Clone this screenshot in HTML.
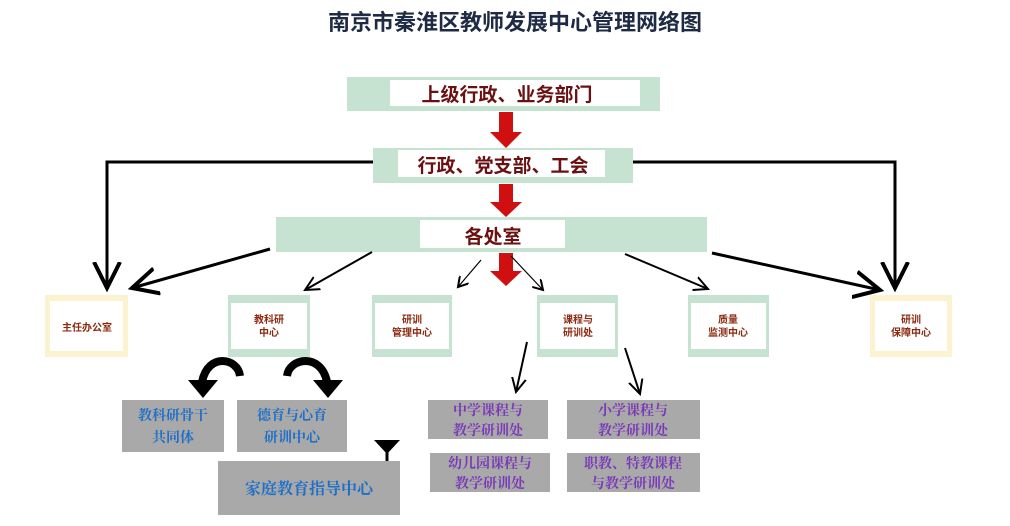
<!DOCTYPE html>
<html><head><meta charset="utf-8"><style>
html,body{margin:0;padding:0;background:#fff;}
svg{display:block;font-family:"Liberation Sans","Noto Sans CJK SC",sans-serif;}
</style></head><body>
<svg width="1010" height="526" viewBox="0 0 1010 526" xmlns="http://www.w3.org/2000/svg">
<defs>
<marker id="oa" markerWidth="12" markerHeight="12" refX="10" refY="6" orient="auto" markerUnits="userSpaceOnUse"><path d="M0,0 L10,6 L0,12" fill="none" stroke="#000" stroke-width="2"/></marker>
<marker id="ob" markerWidth="30" markerHeight="30" refX="26" refY="15" orient="auto" markerUnits="userSpaceOnUse"><path d="M0,2 L26,15 L0,28" fill="none" stroke="#000" stroke-width="4"/></marker>
<marker id="os" markerWidth="16" markerHeight="16" refX="14" refY="8" orient="auto" markerUnits="userSpaceOnUse"><path d="M0,1 L14,8 L0,15" fill="none" stroke="#000" stroke-width="2"/></marker>
</defs>
<text x="515" y="30" text-anchor="middle" font-size="22" font-weight="bold" fill="#1f2a44">南京市秦淮区教师发展中心管理网络图</text>

<rect x="347" y="77" width="313" height="34" fill="#c6e3d1"/>
<rect x="390" y="80" width="250" height="26" fill="#fff"/>
<text x="507" y="101" text-anchor="middle" font-size="19" font-weight="bold" fill="#6b1010">上级行政、业务部门</text>

<rect x="373" y="148" width="260" height="35" fill="#c6e3d1"/>
<rect x="398" y="150" width="207" height="27" fill="#fff"/>
<text x="503" y="172" text-anchor="middle" font-size="19" font-weight="bold" fill="#6b1010">行政、党支部、工会</text>

<rect x="276" y="217" width="431" height="35" fill="#c6e3d1"/>
<rect x="420" y="220" width="145" height="28" fill="#fff"/>
<text x="493" y="243" text-anchor="middle" font-size="19" font-weight="bold" fill="#6b1010">各处室</text>

<g fill="#d01010">
<path d="M499,112 h14 v20 h9 l-16,16 l-16,-16 h9z"/>
<path d="M499,184 h14 v18 h9 l-16,15 l-16,-15 h9z"/>
<path d="M499,253 h14 v18 h9 l-16,15 l-16,-15 h9z"/>
</g>

<polyline points="373,162 107,162 107,288" fill="none" stroke="#000" stroke-width="3" marker-end="url(#ob)"/>
<polyline points="633,162 895,162 895,288" fill="none" stroke="#000" stroke-width="3" marker-end="url(#ob)"/>
<line x1="270" y1="249" x2="132" y2="288" stroke="#000" stroke-width="3" marker-end="url(#ob)"/>
<line x1="372" y1="252" x2="305" y2="290" stroke="#000" stroke-width="2" marker-end="url(#os)"/>
<line x1="481" y1="260" x2="458" y2="287" stroke="#000" stroke-width="1.2" marker-end="url(#oa)"/>
<line x1="511" y1="256" x2="543" y2="290" stroke="#000" stroke-width="1.2" marker-end="url(#oa)"/>
<line x1="625" y1="254" x2="708" y2="289" stroke="#000" stroke-width="2" marker-end="url(#os)"/>
<line x1="712" y1="253" x2="880" y2="290" stroke="#000" stroke-width="3" marker-end="url(#ob)"/>
<line x1="527" y1="342" x2="516" y2="392" stroke="#000" stroke-width="2" marker-end="url(#os)"/>
<line x1="625" y1="348" x2="640" y2="394" stroke="#000" stroke-width="2" marker-end="url(#os)"/>

<g font-size="10" font-weight="bold" fill="#8a2a10" text-anchor="middle">
<rect x="45" y="295" width="83" height="62" fill="#fbf3d0"/><rect x="50" y="301" width="73" height="50" fill="#fff"/>
<text x="87" y="331">主任办公室</text>
<rect x="228" y="295" width="82" height="62" fill="#c6e3d1"/><rect x="231" y="303" width="76" height="46" fill="#fff"/>
<text x="269" y="323">教科研</text><text x="269" y="336">中心</text>
<rect x="372" y="295" width="80" height="62" fill="#c6e3d1"/><rect x="375" y="303" width="74" height="46" fill="#fff"/>
<text x="412" y="323">研训</text><text x="412" y="336">管理中心</text>
<rect x="537" y="295" width="81" height="62" fill="#c6e3d1"/><rect x="540" y="303" width="75" height="46" fill="#fff"/>
<text x="578" y="323">课程与</text><text x="578" y="336">研训处</text>
<rect x="688" y="295" width="81" height="62" fill="#c6e3d1"/><rect x="691" y="303" width="75" height="46" fill="#fff"/>
<text x="728" y="323">质量</text><text x="728" y="336">监测中心</text>
<rect x="870" y="295" width="82" height="62" fill="#fbf3d0"/><rect x="875" y="301" width="72" height="50" fill="#fff"/>
<text x="911" y="323">研训</text><text x="911" y="336">保障中心</text>
</g>

<!-- curved arrows -->
<path d="M240,376 C238,358 208,352 202,382" fill="none" stroke="#000" stroke-width="8"/>
<path d="M188,380 L218,380 L203,398z" fill="#000"/>
<path d="M287,376 C289,358 321,352 327,382" fill="none" stroke="#000" stroke-width="8"/>
<path d="M313,380 L343,380 L328,398z" fill="#000"/>
<path d="M374,440 h26 l-13,14z" fill="#000"/>
<line x1="387" y1="450" x2="387" y2="466" stroke="#000" stroke-width="3"/>

<g fill="#a9a9a9">
<rect x="122" y="400" width="102" height="52"/>
<rect x="237" y="400" width="110" height="52"/>
<rect x="218" y="461" width="182" height="54"/>
<rect x="428" y="400" width="120" height="39"/>
<rect x="567" y="400" width="133" height="39"/>
<rect x="430" y="453" width="120" height="39"/>
<rect x="567" y="453" width="133" height="39"/>
</g>
<g font-size="14" font-weight="bold" text-anchor="middle" font-family="Noto Serif CJK SC, serif">
<g fill="#1f6fc8">
<text x="173" y="420">教科研骨干</text><text x="173" y="442">共同体</text>
<text x="292" y="420">德育与心育</text><text x="292" y="442">研训中心</text>
<text x="309" y="494" font-size="16">家庭教育指导中心</text>
</g>
<g fill="#7a3ab8">
<text x="488" y="415">中学课程与</text><text x="488" y="435">教学研训处</text>
<text x="633" y="415">小学课程与</text><text x="633" y="435">教学研训处</text>
<text x="490" y="468">幼儿园课程与</text><text x="490" y="488">教学研训处</text>
<text x="633" y="468">职教、特教课程</text><text x="633" y="488">与教学研训处</text>
</g>
</g>
</svg>
</body></html>
